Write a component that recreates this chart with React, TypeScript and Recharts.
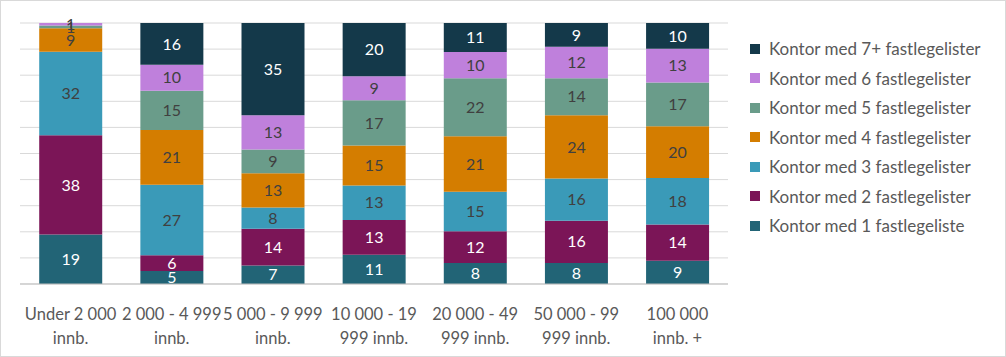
import { BarChart, Bar, XAxis, YAxis, CartesianGrid, LabelList } from 'recharts';

// population groups (two-line tick labels)
const categories = [
  ['Under 2 000', 'innb.'],
  ['2 000 - 4 999', 'innb.'],
  ['5 000 - 9 999', 'innb.'],
  ['10 000 - 19', '999 innb.'],
  ['20 000 - 49', '999 innb.'],
  ['50 000 - 99', '999 innb.'],
  ['100 000', 'innb. +'],
];

const kontor1 = [19, 5, 7, 11, 8, 8, 9];
const kontor2 = [38, 6, 14, 13, 12, 16, 14];
const kontor3 = [32, 27, 8, 13, 15, 16, 18];
const kontor4 = [9, 21, 13, 15, 21, 24, 20];
const kontor5 = [1, 15, 9, 17, 22, 14, 17];
const kontor6 = [1, 10, 13, 9, 10, 12, 13];
const kontor7 = [0, 16, 35, 20, 11, 9, 10];

const yTicks = [0, 0.1, 0.2, 0.3, 0.4, 0.5, 0.6, 0.7, 0.8, 0.9, 1];

const series = [
  { key: 'k1', name: 'Kontor med 1 fastlegeliste', color: '#226476', label: '#ffffff' },
  { key: 'k2', name: 'Kontor med 2 fastlegelister', color: '#7b1557', label: '#ffffff' },
  { key: 'k3', name: 'Kontor med 3 fastlegelister', color: '#3a9ab8', label: '#404040' },
  { key: 'k4', name: 'Kontor med 4 fastlegelister', color: '#d47d00', label: '#404040' },
  { key: 'k5', name: 'Kontor med 5 fastlegelister', color: '#6a9c8a', label: '#404040' },
  { key: 'k6', name: 'Kontor med 6 fastlegelister', color: '#bf80dc', label: '#404040' },
  { key: 'k7', name: 'Kontor med 7+ fastlegelister', color: '#14394a', label: '#ffffff' },
];

const values = [kontor1, kontor2, kontor3, kontor4, kontor5, kontor6, kontor7];

const data = categories.map((c, i) => {
  const row: Record<string, any> = { name: c.join('\n') };
  series.forEach((s, j) => {
    row[s.key] = values[j][i];
  });
  return row;
});

const FONT = 'Lato, "Open Sans", sans-serif';

function CategoryTick(props: any) {
  const { x, y, payload } = props;
  const lines = String(payload.value).split('\n');
  return (
    <g transform={`translate(${x},${y})`}>
      {lines.map((l, i) => (
        <text key={i} x={0} y={0} dy={28 + i * 24} textAnchor="middle" fill="#595959" fontSize={16.5} fontFamily={FONT}>
          {l}
        </text>
      ))}
    </g>
  );
}

export default function App() {
  return (
    <div
      style={{
        position: 'absolute',
        left: 0,
        top: 0,
        width: 1004,
        height: 355,
        border: '1px solid #d9d9d9',
        background: '#fff',
      }}
    >
      <BarChart
        width={1004}
        height={355}
        data={data}
        stackOffset="expand"
        barCategoryGap="19%"
        margin={{ top: 22, left: 19, right: 277, bottom: 42 }}
      >
        <CartesianGrid vertical={false} stroke="#d9d9d9" />
        <XAxis
          dataKey="name"
          tick={<CategoryTick />}
          tickLine={false}
          axisLine={{ stroke: '#bfbfbf' }}
          interval={0}
        />
        <YAxis hide domain={[0, 1]} ticks={yTicks} />
        {series.map((s) => (
          <Bar key={s.key} dataKey={s.key} name={s.name} stackId="a" fill={s.color} isAnimationActive={false}>
            <LabelList dataKey={s.key} position="center" fill={s.label} fontSize={16} fontFamily={FONT}
              formatter={(v: any) => (v ? v : '')} />
          </Bar>
        ))}
      </BarChart>
      <div style={{ position: 'absolute', left: 749, top: 33, fontFamily: FONT, fontSize: 17, color: '#595959' }}>
        {[...series].reverse().map((s) => (
          <div key={s.key} style={{ display: 'flex', alignItems: 'center', height: 29.5, whiteSpace: 'nowrap' }}>
            <span style={{ width: 10, height: 10, background: s.color, display: 'inline-block', marginRight: 9 }} />
            <span>{s.name}</span>
          </div>
        ))}
      </div>
    </div>
  );
}
